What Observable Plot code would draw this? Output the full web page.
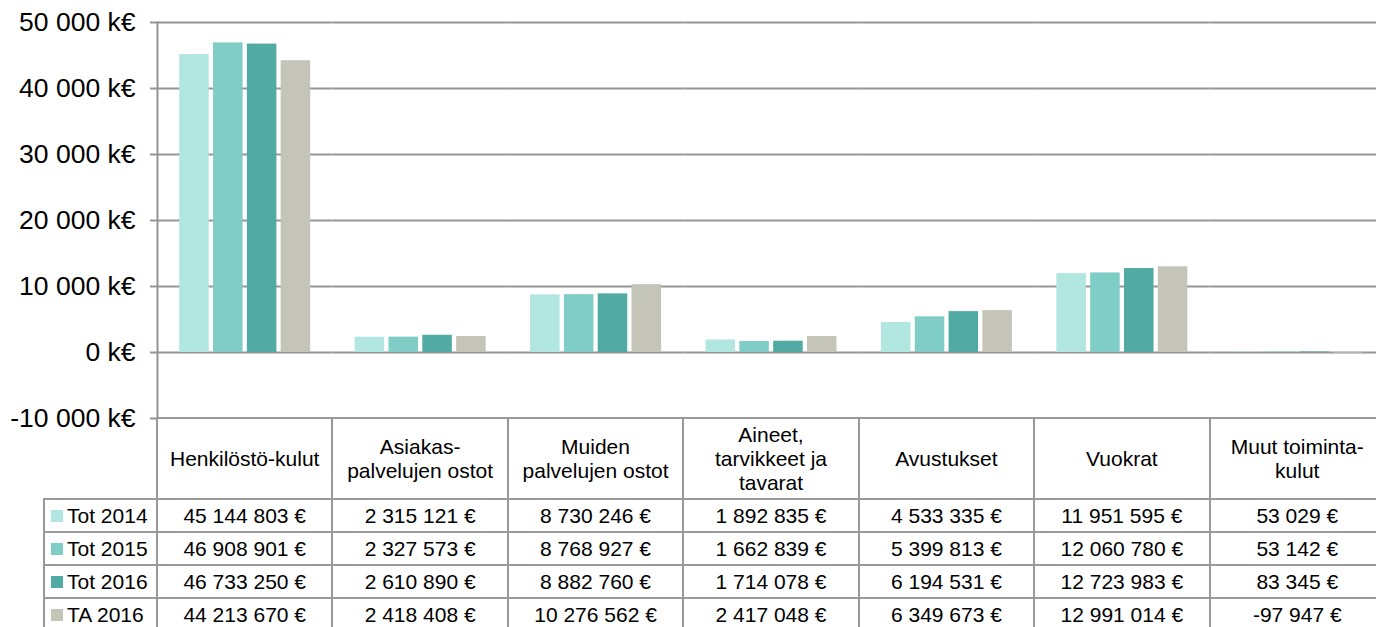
<!DOCTYPE html>
<html><head><meta charset="utf-8">
<script src="https://cdn.jsdelivr.net/npm/d3@7"></script>
<script src="https://cdn.jsdelivr.net/npm/@observablehq/plot@0.6"></script>
<style>
html,body{margin:0;padding:0;background:#fff;overflow:hidden;}
#wrap{position:relative;width:1376px;height:627px;overflow:hidden;font-family:"Liberation Sans",Arial,sans-serif;}
#wrap svg{position:absolute;left:0;top:0;max-width:none !important;width:1385px !important;height:420px !important;}
.cell{position:absolute;box-sizing:border-box;border:2px solid #999;display:flex;align-items:center;justify-content:center;text-align:center;font-size:21px;line-height:24px;color:#000;white-space:nowrap;background:#fff;}
.legend{justify-content:flex-start;padding-left:6px;}
.sw{display:inline-block;width:12px;height:12px;margin-right:4px;}
</style></head><body><div id="wrap"></div>
<script>
const categories = ["Henkilöstö-kulut","Asiakas-palvelujen ostot","Muiden palvelujen ostot","Aineet, tarvikkeet ja tavarat","Avustukset","Vuokrat","Muut toiminta-kulut"];
const headerLines = [["Henkilöstö-kulut"],["Asiakas-","palvelujen ostot"],["Muiden","palvelujen ostot"],["Aineet,","tarvikkeet ja","tavarat"],["Avustukset"],["Vuokrat"],["Muut toiminta-","kulut"]];
const series = ["Tot 2014","Tot 2015","Tot 2016","TA 2016"];
const colors = ["#b1e6e1","#7fcdc6","#51aba4","#c4c4b8"];
const tot2014 = [45144803, 2315121, 8730246, 1892835, 4533335, 11951595, 53029];
const tot2015 = [46908901, 2327573, 8768927, 1662839, 5399813, 12060780, 53142];
const tot2016 = [46733250, 2610890, 8882760, 1714078, 6194531, 12723983, 83345];
const ta2016  = [44213670, 2418408, 10276562, 2417048, 6349673, 12991014, -97947];
const yTicks = [-10000, 0, 10000, 20000, 30000, 40000, 50000];

const values = [tot2014, tot2015, tot2016, ta2016];
const loc = d3.formatLocale({decimal: ",", thousands: " ", grouping: [3], currency: ["", ""], minus: "-"});
const fmtInt = loc.format(",");
const fmtK = d => fmtInt(d) + " k€";
const fmtE = d => fmtInt(d) + " €";

const data = [];
categories.forEach((c, i) => series.forEach((s, j) => data.push({category: c, series: s, value: values[j][i] / 1000})));

const gridColor = "#959595";
const plot = Plot.plot({
  width: 1385, height: 420,
  marginLeft: 157, marginRight: 0, marginTop: 22, marginBottom: 2,
  facet: {marginTop: 0, marginBottom: 0, marginLeft: 0, marginRight: 0},
  style: {fontFamily: "'Liberation Sans', Arial, sans-serif", fontSize: "26.5px", color: "#000", background: "transparent", overflow: "visible"},
  fx: {domain: categories, padding: 0, axis: null, round: false},
  x: {domain: series, paddingInner: 0.127, paddingOuter: 0.657, axis: null, round: false},
  y: {domain: [-10000, 50000], range: [418, 22], axis: null},
  color: {domain: series, range: colors},
  marks: [
    Plot.ruleY(yTicks, {stroke: gridColor, strokeWidth: 2}),
    Plot.barY(data, {fx: "category", x: "series", y: "value", fill: "series"}),
    Plot.axisY({ticks: yTicks, tickSize: 7, tickPadding: 15, stroke: gridColor, strokeWidth: 2, tickFormat: fmtK, fontSize: 26.5, label: null}),
    Plot.frame({anchor: "left", facetAnchor: "left", stroke: gridColor, strokeWidth: 2})
  ]
});
const wrap = document.getElementById("wrap");
wrap.appendChild(plot);

// data table below the chart, aligned on the Plot scales
const fx = plot.scale("fx");
const ys = plot.scale("y");
const bw = fx.bandwidth;
const colLeft = categories.map(c => fx.apply(c));
const top0 = Math.round(ys.apply(-10000));
const headerH = 81, rowH = 33;
const legendLeft = 44;

function cell(x0, y0, w, h, html, cls) {
  const d = document.createElement("div");
  d.className = "cell" + (cls ? " " + cls : "");
  d.style.left = (x0 - 1) + "px";
  d.style.top = (y0 - 1) + "px";
  d.style.width = (w + 2) + "px";
  d.style.height = (h + 2) + "px";
  d.innerHTML = html;
  wrap.appendChild(d);
}
categories.forEach((c, i) => {
  cell(colLeft[i], top0, bw, headerH, "<div>" + headerLines[i].join("<br>") + "</div>");
});
series.forEach((s, j) => {
  const y0 = top0 + headerH + j * rowH;
  cell(legendLeft, y0, colLeft[0] - legendLeft, rowH, '<span class="sw" style="background:' + colors[j] + '"></span>' + s, "legend");
  categories.forEach((c, i) => {
    cell(colLeft[i], y0, bw, rowH, fmtE(values[j][i]));
  });
});
</script></body></html>
